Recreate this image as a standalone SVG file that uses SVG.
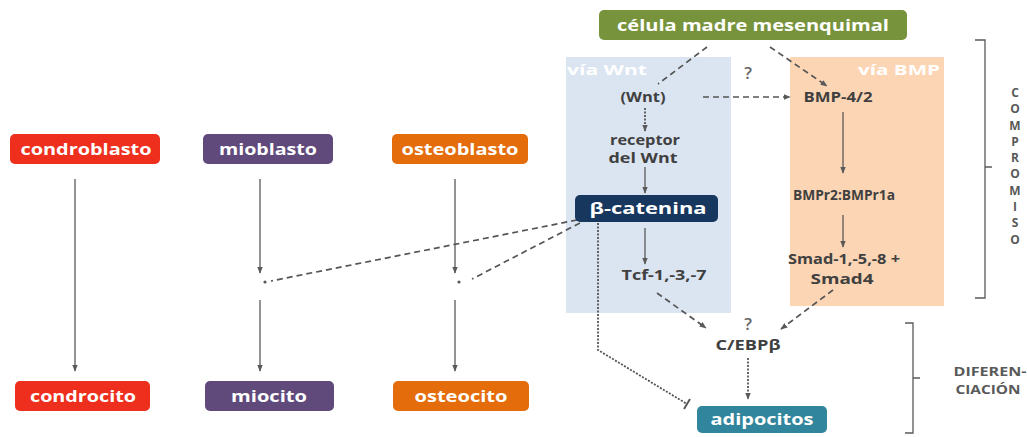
<svg xmlns="http://www.w3.org/2000/svg" width="1027" height="437" viewBox="0 0 1027 437">
<style>
text{font-family:"Open Sans","Liberation Sans",sans-serif;font-weight:700}
.w{fill:#ffffff;font-size:16px;text-anchor:middle}
.d{fill:#404040;font-size:14px;text-anchor:middle}
.g{fill:#595959;font-size:12px;text-anchor:middle}
.c{fill:#595959;font-size:12px;text-anchor:middle}
.q{fill:#666666;font-size:17px;text-anchor:middle;font-weight:600}
.s{stroke:#595959;stroke-width:1.3;fill:none}
.da{stroke:#555555;stroke-width:1.7;fill:none;stroke-dasharray:6,4}
.dt{stroke:#555555;stroke-width:1.8;fill:none;stroke-dasharray:2,1.5}
</style>
<defs>
<marker id="ah" viewBox="0 0 10 10" refX="9" refY="5" markerWidth="7" markerHeight="7" orient="auto" markerUnits="userSpaceOnUse">
<path d="M0,1 L10,5 L0,9 z" fill="#595959"/>
</marker>
</defs>
<rect width="1027" height="437" fill="#ffffff"/>
<g id="via-wnt"><rect x="566" y="57" width="165" height="256" fill="#dbe5f1"/><text x="567" y="75" style="fill:#ffffff;font-size:14px" textLength="80" lengthAdjust="spacingAndGlyphs">vía Wnt</text></g>
<g id="via-bmp"><rect x="790" y="57" width="154" height="249" fill="#fcd5b4"/><text x="858" y="75" style="fill:#ffffff;font-size:14px" textLength="82" lengthAdjust="spacingAndGlyphs">vía BMP</text></g>
<g id="connectors">
<line class="da" x1="707" y1="47" x2="658" y2="84"/>
<line class="da" x1="770" y1="47" x2="827" y2="86" marker-end="url(#ah)"/>
<line class="da" x1="703" y1="97" x2="790" y2="97" marker-end="url(#ah)"/>
<line class="dt" x1="645" y1="108" x2="645" y2="131" marker-end="url(#ah)"/>
<line class="s" x1="645" y1="167" x2="645" y2="193" marker-end="url(#ah)"/>
<line class="s" x1="645" y1="228" x2="645" y2="264" marker-end="url(#ah)"/>
<line class="s" x1="843" y1="112" x2="843" y2="173" marker-end="url(#ah)"/>
<line class="s" x1="843" y1="215" x2="843" y2="247" marker-end="url(#ah)"/>
<line class="da" x1="657" y1="293" x2="706" y2="328" marker-end="url(#ah)"/>
<line class="da" x1="833" y1="290" x2="781" y2="329" marker-end="url(#ah)"/>
<line class="dt" x1="748" y1="358" x2="748" y2="399" marker-end="url(#ah)"/>
<polyline class="dt" points="598,223 598,350 687,404"/>
<line x1="684" y1="409" x2="690" y2="399" stroke="#595959" stroke-width="2"/>
<line class="da" x1="577" y1="220" x2="271" y2="281"/>
<line class="da" x1="580" y1="223" x2="472" y2="279"/>
<line class="s" x1="75" y1="179" x2="75" y2="371" marker-end="url(#ah)"/>
<line class="s" x1="260" y1="179" x2="260" y2="273" marker-end="url(#ah)"/>
<line class="s" x1="260" y1="300" x2="260" y2="371" marker-end="url(#ah)"/>
<line class="s" x1="455" y1="179" x2="455" y2="273" marker-end="url(#ah)"/>
<line class="s" x1="455" y1="300" x2="455" y2="371" marker-end="url(#ah)"/>
<circle cx="265" cy="282" r="1.6" fill="#595959"/>
<circle cx="459" cy="282" r="1.6" fill="#595959"/>
</g>
<g id="celula"><rect x="599" y="10" width="308" height="30" rx="5" fill="#77933c"/><text class="w" x="753" y="31" textLength="272" lengthAdjust="spacingAndGlyphs">célula madre mesenquimal</text></g>
<text x="748" y="79" class="q">?</text>
<g id="wnt"><text class="d" x="643" y="102" textLength="45" lengthAdjust="spacingAndGlyphs">(Wnt)</text></g>
<g id="bmp42"><text class="d" x="838" y="102" textLength="69" lengthAdjust="spacingAndGlyphs">BMP-4/2</text></g>
<g id="receptor"><text class="d" x="645" y="145" textLength="70" lengthAdjust="spacingAndGlyphs">receptor</text><text class="d" x="643" y="163" textLength="69" lengthAdjust="spacingAndGlyphs">del Wnt</text></g>
<g id="bcatenina"><rect x="575" y="195" width="143" height="27" rx="5" fill="#17375e"/><text class="w" x="648" y="214" textLength="117" lengthAdjust="spacingAndGlyphs">β-catenina</text></g>
<g id="tcf"><text class="d" x="664" y="280" textLength="85" lengthAdjust="spacingAndGlyphs">Tcf-1,-3,-7</text></g>
<g id="bmpr"><text class="d" x="844" y="200" textLength="102" lengthAdjust="spacingAndGlyphs">BMPr2:BMPr1a</text></g>
<g id="smad"><text class="d" x="844" y="264" textLength="112" lengthAdjust="spacingAndGlyphs">Smad-1,-5,-8 +</text><text class="d" x="842" y="284" textLength="63" lengthAdjust="spacingAndGlyphs">Smad4</text></g>
<text x="748" y="330" class="q">?</text>
<g id="cebpb"><text class="d" x="748" y="350" textLength="65" lengthAdjust="spacingAndGlyphs">C/EBPβ</text></g>
<g id="adipocitos"><rect x="697" y="406" width="130" height="27" rx="5" fill="#31859c"/><text class="w" x="762" y="425" textLength="103" lengthAdjust="spacingAndGlyphs">adipocitos</text></g>
<g id="condroblasto"><rect x="10" y="134" width="150" height="30" rx="5" fill="#ee2f1d"/><text class="w" x="86" y="155" textLength="131" lengthAdjust="spacingAndGlyphs">condroblasto</text></g>
<g id="mioblasto"><rect x="203" y="134" width="130" height="30" rx="5" fill="#604a7b"/><text class="w" x="268" y="155" textLength="98" lengthAdjust="spacingAndGlyphs">mioblasto</text></g>
<g id="osteoblasto"><rect x="392" y="134" width="136" height="30" rx="5" fill="#e46c0a"/><text class="w" x="460" y="155" textLength="117" lengthAdjust="spacingAndGlyphs">osteoblasto</text></g>
<g id="condrocito"><rect x="15" y="381" width="135" height="30" rx="5" fill="#ee2f1d"/><text class="w" x="83" y="402" textLength="106" lengthAdjust="spacingAndGlyphs">condrocito</text></g>
<g id="miocito"><rect x="205" y="381" width="129" height="30" rx="5" fill="#604a7b"/><text class="w" x="269" y="402" textLength="76" lengthAdjust="spacingAndGlyphs">miocito</text></g>
<g id="osteocito"><rect x="393" y="381" width="136" height="30" rx="5" fill="#e46c0a"/><text class="w" x="461" y="402" textLength="93" lengthAdjust="spacingAndGlyphs">osteocito</text></g>
<g id="compromiso">
<path class="s" d="M975,40 H985 V298 H975 M985,167 H992"/>
<text class="c" x="1015" y="97">C</text>
<text class="c" x="1015" y="113">O</text>
<text class="c" x="1015" y="130">M</text>
<text class="c" x="1015" y="146">P</text>
<text class="c" x="1015" y="162">R</text>
<text class="c" x="1015" y="178">O</text>
<text class="c" x="1015" y="195">M</text>
<text class="c" x="1015" y="211">I</text>
<text class="c" x="1015" y="227">S</text>
<text class="c" x="1015" y="244">O</text>
</g>
<g id="diferenciacion">
<path class="s" d="M905,323 H913 V433 H905 M913,378 H920"/>
<text class="g" x="990" y="376" textLength="73" lengthAdjust="spacingAndGlyphs">DIFEREN-</text>
<text class="g" x="988" y="394" textLength="65" lengthAdjust="spacingAndGlyphs">CIACIÓN</text>
</g>
</svg>
